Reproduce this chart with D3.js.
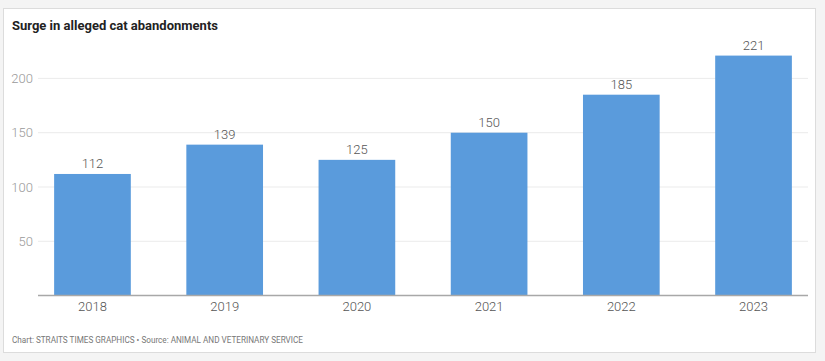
<!DOCTYPE html>
<html><head><meta charset="utf-8">
<script src="https://cdn.jsdelivr.net/npm/d3@7"></script>
<style>
html,body{margin:0;padding:0;background:#f4f4f4;}
svg{display:block;}
</style></head>
<body>
<svg id="chart" width="825" height="361"></svg>
<script>
const title = "Surge in alleged cat abandonments";
const footer = "Chart: STRAITS TIMES GRAPHICS \u2022 Source: ANIMAL AND VETERINARY SERVICE";
const years = ["2018","2019","2020","2021","2022","2023"];
const abandonments = [112,139,125,150,185,221];
const yTicks = [50,100,150,200];

(function(){
const svg = d3.select("#chart");
svg.append("rect").attr("x",3.5).attr("y",8.5).attr("width",812).attr("height",344)
  .attr("fill","#fff").attr("stroke","#dcdcdc");

const font = "Roboto, 'Open Sans', sans-serif";
svg.append("text").attr("x",12).attr("y",29.5).text(title)
  .attr("font-family",font).attr("font-weight",700).attr("font-size",13.2).attr("fill","#222")
  .attr("textLength",206).attr("lengthAdjust","spacingAndGlyphs");

const mLeft = 38, mRight = 808, mBottom = 295.6;
const y = d3.scaleLinear().domain([0,50]).range([mBottom, mBottom-54.3]);
const x = d3.scaleBand().domain(years).range([mLeft,mRight]).paddingInner(0.42).paddingOuter(0.122);

const g = svg.append("g");
g.selectAll("line.grid").data(yTicks).join("line").attr("class","grid")
  .attr("x1",mLeft).attr("x2",mRight).attr("y1",d=>y(d)).attr("y2",d=>y(d))
  .attr("stroke","#ebebeb").attr("stroke-width",1);
const yAxis = d3.axisLeft(y).tickValues(yTicks).tickSize(0).tickPadding(0);
const ya = g.append("g").attr("transform",`translate(${mLeft-5},0)`).call(yAxis);
ya.select(".domain").remove();
ya.selectAll("text").attr("font-family",font).attr("font-weight",300).attr("font-size",13).attr("fill","#999");

g.selectAll("rect.bar").data(abandonments).join("rect").attr("class","bar")
  .attr("x",(d,i)=>x(years[i])).attr("width",x.bandwidth())
  .attr("y",d=>y(d)).attr("height",d=>y(0)-y(d)).attr("fill","#5a9bdc");
g.selectAll("text.val").data(abandonments).join("text").attr("class","val")
  .attr("x",(d,i)=>x(years[i])+x.bandwidth()/2).attr("y",d=>y(d)-6)
  .attr("text-anchor","middle").text(d=>d)
  .attr("font-family",font).attr("font-weight",300).attr("font-size",13).attr("fill","#555");

const xAxis = d3.axisBottom(x).tickSize(0).tickPadding(6);
const xa = g.append("g").attr("transform",`translate(0,${mBottom})`).call(xAxis);
xa.select(".domain").remove();
xa.selectAll("text").attr("font-family",font).attr("font-weight",300).attr("font-size",13).attr("fill","#555");
g.append("line").attr("x1",mLeft).attr("x2",mRight).attr("y1",mBottom).attr("y2",mBottom)
  .attr("stroke","#a8a8a8").attr("stroke-width",1.5);

svg.append("text").attr("x",12).attr("y",342.5).text(footer)
  .attr("font-family",font).attr("font-size",9.5).attr("fill","#777")
  .attr("textLength",291).attr("lengthAdjust","spacingAndGlyphs");
})();
</script>
</body></html>
